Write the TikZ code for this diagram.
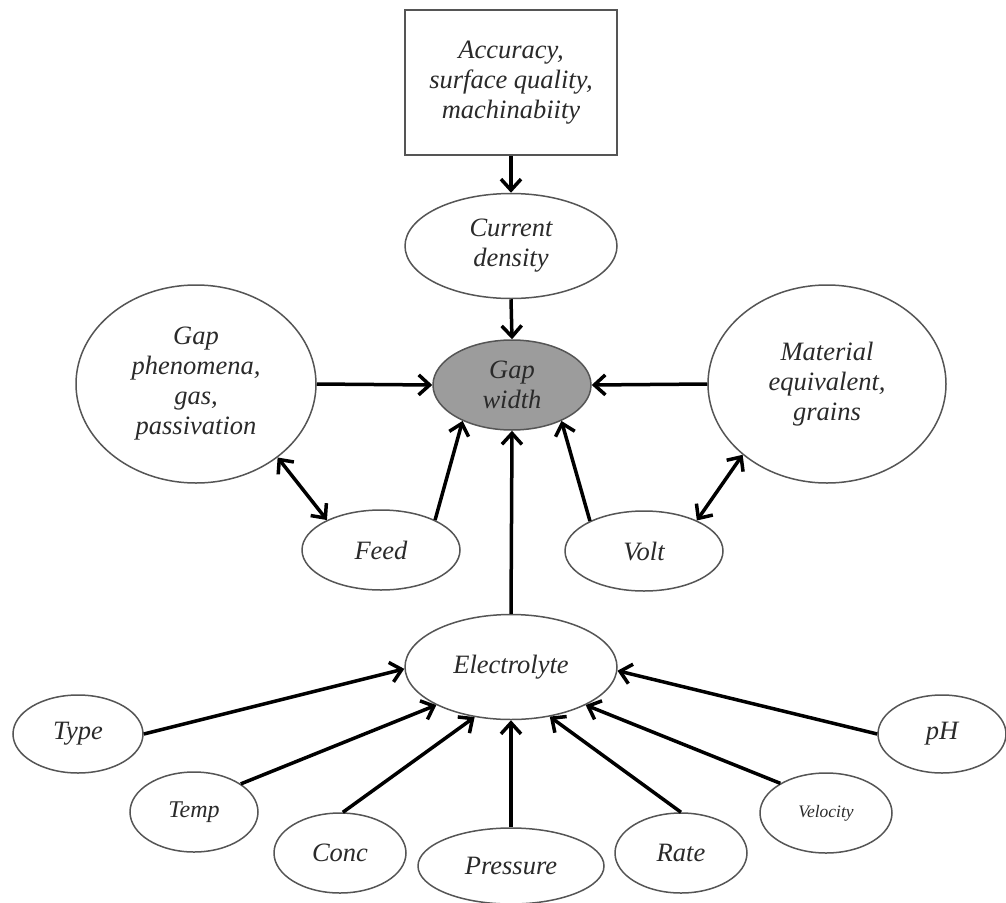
\documentclass[tikz,border=0pt]{standalone}
\usepackage{fontspec}
\setmainfont{Liberation Serif}
\usetikzlibrary{shapes.geometric,arrows.meta}
\definecolor{edgegray}{HTML}{555555}
\definecolor{txtgray}{HTML}{2A2A2A}
\definecolor{fillgray}{HTML}{9C9C9C}
\begin{document}
\begin{tikzpicture}[x=1pt,y=-1pt,
  txt/.style={font=\fontsize{26.5}{30}\selectfont\itshape, align=center, text=txtgray},
  ell/.style={ellipse, draw=edgegray, line width=1.5pt, inner sep=0pt, fill=white, txt},
  boxnode/.style={rectangle, draw=edgegray, line width=2pt, inner sep=0pt, fill=white, txt},
  arr/.style={-{Straight Barb[length=11pt,width=20pt]}, line width=3.5pt, black},
  darr/.style={{Straight Barb[length=11pt,width=20pt]}-{Straight Barb[length=11pt,width=20pt]}, line width=3.5pt, black}
]
\useasboundingbox (0,0) rectangle (1006,902);

% top box and upper nodes
\node[boxnode, minimum width=212pt, minimum height=145pt] (acc) at (511,82.5)
  {Accuracy,\\surface quality,\\machinabiity};
\node[ell, minimum width=212pt, minimum height=105pt] (cur) at (511,246) {Current\\density};
\node[ell, fill=fillgray, minimum width=158pt, minimum height=90pt] (gap) at (512,385) {Gap\\width};
\node[ell, minimum width=240pt, minimum height=198pt] (phen) at (196,384)
  {Gap\\phenomena,\\gas,\\passivation};
\node[ell, minimum width=238pt, minimum height=198pt] (mat) at (827,384)
  {Material\\equivalent,\\grains};
\node[ell, minimum width=158pt, minimum height=80pt] (feed) at (381,550) {Feed};
\node[ell, minimum width=158pt, minimum height=80pt] (volt) at (644,551) {Volt};

% electrolyte and its factors
\node[ell, minimum width=212pt, minimum height=105pt] (elec) at (511,667) {Electrolyte};
\node[ell, minimum width=130pt, minimum height=78pt] (type) at (78,734) {Type};
\node[ell, minimum width=128pt, minimum height=80pt, font=\fontsize{24}{26}\selectfont\itshape] (temp) at (194,812) {Temp};
\node[ell, minimum width=132pt, minimum height=80pt] (conc) at (340,853) {Conc};
\node[ell, minimum width=186pt, minimum height=76pt] (pres) at (511,866) {Pressure};
\node[ell, minimum width=132pt, minimum height=80pt] (rate) at (681,853) {Rate};
\node[ell, minimum width=132pt, minimum height=80pt, font=\fontsize{17.5}{20}\selectfont\itshape] (velo) at (826,813) {Velocity};
\node[ell, minimum width=128pt, minimum height=78pt] (ph) at (942,734) {pH};

% connectors
\draw[arr] (acc.south) -- (cur.north);
\draw[arr] (cur.south) -- (gap.north);
\draw[arr] (phen.east) -- (gap.west);
\draw[arr] (mat.west) -- (gap.east);
\draw[arr] (feed.29) -- (gap.216);
\draw[arr] (volt.151) -- (gap.324);
\draw[arr] (elec.north) -- (gap.south);
\draw[darr] (phen.318) -- (feed.151);
\draw[darr] (mat.220) -- (volt.30);

\draw[arr] (type.east) -- (elec.181);
\draw[arr] (temp.31) -- (elec.207);
\draw[arr] (conc.86) -- (elec.234);
\draw[arr] (pres.north) -- (elec.south);
\draw[arr] (rate.north) -- (elec.308);
\draw[arr] (velo.147) -- (elec.333);
\draw[arr] (ph.west) -- (elec.358);
\end{tikzpicture}
\end{document}
